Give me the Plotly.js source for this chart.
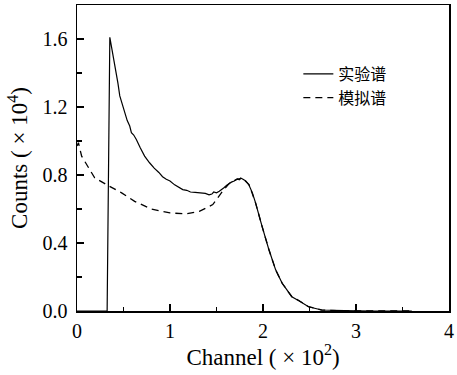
<!DOCTYPE html>
<html>
<head>
<meta charset="utf-8">
<script src="https://cdn.plot.ly/plotly-3.0.1.min.js"></script>
<style>html,body{margin:0;padding:0;background:#fff;}#chart{width:457px;height:375px;}</style>
</head>
<body>
<div id="chart"></div>
<script>
// Experimental spectrum (实验谱)
var expX = [0, 0.324, 0.353, 0.37, 0.39, 0.41, 0.424, 0.44, 0.46, 0.48, 0.495, 0.513, 0.54, 0.567, 0.585, 0.61, 0.638, 0.68, 0.727, 0.78, 0.83, 0.88, 0.92, 0.96, 1.0, 1.05, 1.1, 1.137, 1.18, 1.22, 1.27, 1.315, 1.35, 1.38, 1.42, 1.45, 1.47, 1.5, 1.53, 1.56, 1.58, 1.61, 1.636, 1.66, 1.69, 1.71, 1.725, 1.745, 1.76, 1.78, 1.8, 1.815, 1.85, 1.886, 1.92, 1.94, 1.99, 2.064, 2.136, 2.206, 2.31, 2.385, 2.49, 2.63, 2.84, 3.0, 3.2, 3.4, 3.6];
var expY = [0, 0, 1.61, 1.56, 1.48, 1.43, 1.383, 1.34, 1.265, 1.23, 1.206, 1.167, 1.12, 1.088, 1.049, 1.035, 1.009, 0.96, 0.911, 0.872, 0.84, 0.815, 0.79, 0.775, 0.765, 0.742, 0.728, 0.714, 0.71, 0.70, 0.698, 0.695, 0.69, 0.692, 0.683, 0.688, 0.70, 0.695, 0.704, 0.72, 0.725, 0.74, 0.75, 0.758, 0.765, 0.772, 0.777, 0.772, 0.782, 0.776, 0.77, 0.765, 0.74, 0.695, 0.636, 0.60, 0.498, 0.36, 0.242, 0.163, 0.084, 0.06, 0.025, 0.006, 0.002, 0.001, 0.0, 0.0, 0.0];
// Simulated spectrum (模拟谱)
var simX = [0, 0.015, 0.05, 0.09, 0.19, 0.335, 0.48, 0.62, 0.8, 1.0, 1.17, 1.315, 1.46, 1.565, 1.64, 1.72, 1.78, 1.85, 1.92, 1.99, 2.064, 2.136, 2.206, 2.31, 2.385, 2.49, 2.63, 2.84, 3.0, 3.3, 3.6];
var simY = [0.97, 0.99, 0.911, 0.872, 0.783, 0.738, 0.695, 0.645, 0.60, 0.577, 0.571, 0.586, 0.626, 0.704, 0.752, 0.775, 0.78, 0.744, 0.636, 0.498, 0.36, 0.242, 0.163, 0.084, 0.062, 0.025, 0.006, 0.001, 0, 0, 0];
var names = ['实验谱', '模拟谱'];
var xTickVals = [0, 1, 2, 3, 4];
var yTickVals = [0, 0.4, 0.8, 1.2, 1.6];

var serif = 'Liberation Serif, Times New Roman, serif';
var axisFont = {family: serif, size: 20, color: '#000'};
var titleFont = {family: serif, size: 23, color: '#000'};
var traces = [
  {x: expX, y: expY, name: names[0], mode: 'lines', line: {color: '#000', width: 1.2}},
  {x: simX, y: simY, name: names[1], mode: 'lines', line: {color: '#000', width: 1.3, dash: '7px,5px'}}
];
var layout = {
  width: 457, height: 375,
  margin: {l: 77, r: 8, t: 5, b: 64},
  paper_bgcolor: '#fff', plot_bgcolor: '#fff',
  showlegend: true,
  legend: {x: 0.595, y: 0.83, xanchor: 'left', yanchor: 'top', bgcolor: 'rgba(0,0,0,0)',
           font: {family: 'Noto Sans CJK SC, sans-serif', size: 16, color: '#000'}, tracegroupgap: 0},
  xaxis: {range: [0, 4], tickvals: xTickVals, ticks: 'inside', ticklen: 7, tickwidth: 1.2, tickcolor: '#000',
          showline: true, linecolor: '#000', linewidth: 1.5, mirror: true, showgrid: false, zeroline: false,
          tickfont: axisFont, ticklabelstandoff: 1,
          minor: {dtick: 0.5, ticks: 'inside', ticklen: 4, tickwidth: 1.2, tickcolor: '#000', showgrid: false},
          title: {text: 'Channel ( × 10<sup>2</sup>)', font: titleFont, standoff: 6}},
  yaxis: {range: [0, 1.8], tickvals: yTickVals, tickformat: '.1f', ticks: 'inside', ticklen: 7, tickwidth: 1.2, tickcolor: '#000',
          showline: true, linecolor: '#000', linewidth: 1.5, mirror: true, showgrid: false, zeroline: false,
          tickfont: axisFont, ticklabelstandoff: 4,
          minor: {dtick: 0.2, ticks: 'inside', ticklen: 5, tickwidth: 1.2, tickcolor: '#000', showgrid: false},
          title: {text: 'Counts ( × 10<sup>4</sup>)', font: titleFont, standoff: 8}}
};
Plotly.newPlot('chart', traces, layout, {displayModeBar: false, staticPlot: true});
</script>
</body>
</html>
